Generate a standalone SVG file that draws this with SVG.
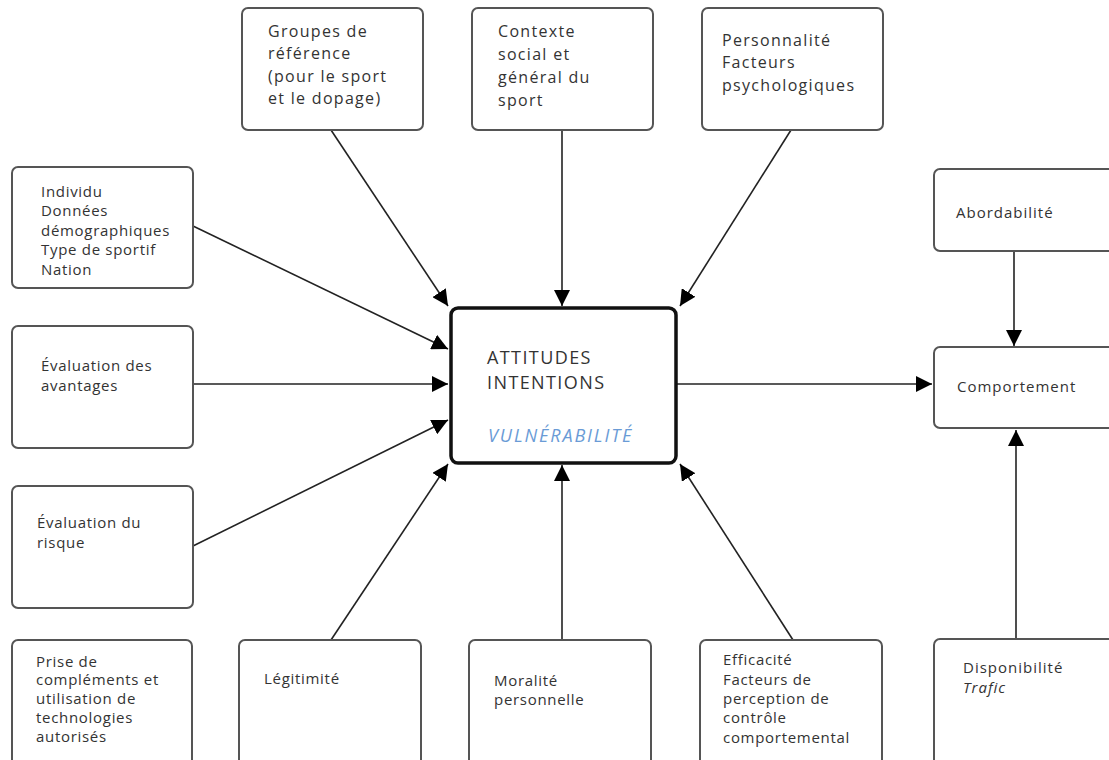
<svg xmlns="http://www.w3.org/2000/svg" width="1109" height="760" viewBox="0 0 1109 760">
<style>
.box{fill:#fff;stroke:#555;stroke-width:2}
.main{fill:#fff;stroke:#111;stroke-width:3.5}
text{font-family:"Open Sans","Noto Sans",sans-serif;font-size:15px;fill:#333;letter-spacing:0.7px}
.top{font-size:16px;letter-spacing:1.3px}
.rt{letter-spacing:1px}
.big{font-size:18px;fill:#333;letter-spacing:1.4px}
.vul{font-size:18px;fill:#6a9bd6;font-style:italic;letter-spacing:1.9px}
.c line{stroke:#222;stroke-width:1.6}
</style>
<defs>
<marker id="ah2" viewBox="0 0 10 10" refX="10" refY="5" markerWidth="16" markerHeight="16" markerUnits="userSpaceOnUse" orient="auto">
<path d="M0,0 L10,5 L0,10 Z" fill="#000"/>
</marker>
</defs>
<rect width="1109" height="760" fill="#fff"/>
<g class="c" id="connectors">
<line x1="331" y1="130" x2="448" y2="306" marker-end="url(#ah2)"/>
<line x1="562" y1="130" x2="562" y2="306" marker-end="url(#ah2)"/>
<line x1="791" y1="130" x2="680" y2="306" marker-end="url(#ah2)"/>
<line x1="193" y1="226" x2="448" y2="349" marker-end="url(#ah2)"/>
<line x1="193" y1="384" x2="448" y2="384" marker-end="url(#ah2)"/>
<line x1="193" y1="546" x2="448" y2="420" marker-end="url(#ah2)"/>
<line x1="331" y1="640" x2="448" y2="464" marker-end="url(#ah2)"/>
<line x1="562" y1="640" x2="562" y2="465" marker-end="url(#ah2)"/>
<line x1="793" y1="640" x2="680" y2="464" marker-end="url(#ah2)"/>
<line x1="677" y1="384" x2="932" y2="384" marker-end="url(#ah2)"/>
<line x1="1014" y1="251" x2="1014" y2="346" marker-end="url(#ah2)"/>
<line x1="1016" y1="639" x2="1016" y2="430" marker-end="url(#ah2)"/>
</g>
<g id="groupes">
<rect class="box" x="242" y="8" width="181" height="122" rx="6"/>
<text class="top" x="268" y="37">Groupes de</text>
<text class="top" x="268" y="59">référence</text>
<text class="top" x="268" y="82">(pour le sport</text>
<text class="top" x="268" y="104">et le dopage)</text>
</g>
<g id="contexte">
<rect class="box" x="472" y="8" width="181" height="122" rx="6"/>
<text class="top" x="498" y="37">Contexte</text>
<text class="top" x="498" y="60">social et</text>
<text class="top" x="498" y="83">général du</text>
<text class="top" x="498" y="106">sport</text>
</g>
<g id="personnalite">
<rect class="box" x="702" y="8" width="181" height="122" rx="6"/>
<text class="top" x="722" y="46">Personnalité</text>
<text class="top" x="722" y="68">Facteurs</text>
<text class="top" x="722" y="91">psychologiques</text>
</g>
<g id="individu">
<rect class="box" x="12" y="167" width="181" height="121" rx="6"/>
<text x="41" y="197">Individu</text>
<text x="41" y="216">Données</text>
<text x="41" y="236">démographiques</text>
<text x="41" y="255">Type de sportif</text>
<text x="41" y="275">Nation</text>
</g>
<g id="avantages">
<rect class="box" x="12" y="326" width="181" height="122" rx="6"/>
<text x="41" y="371">Évaluation des</text>
<text x="41" y="391">avantages</text>
</g>
<g id="risque">
<rect class="box" x="12" y="486" width="181" height="122" rx="6"/>
<text x="37" y="528">Évaluation du</text>
<text x="37" y="548">risque</text>
</g>
<g id="prise">
<rect class="box" x="12" y="640" width="180" height="130" rx="6"/>
<text x="36" y="667">Prise de</text>
<text x="36" y="685">compléments et</text>
<text x="36" y="704">utilisation de</text>
<text x="36" y="723">technologies</text>
<text x="36" y="742">autorisés</text>
</g>
<g id="legitimite">
<rect class="box" x="239" y="640" width="182" height="130" rx="6"/>
<text x="264" y="684">Légitimité</text>
</g>
<g id="moralite">
<rect class="box" x="469" y="640" width="182" height="130" rx="6"/>
<text x="494" y="686">Moralité</text>
<text x="494" y="705">personnelle</text>
</g>
<g id="efficacite">
<rect class="box" x="700" y="640" width="182" height="130" rx="6"/>
<text x="723" y="665">Efficacité</text>
<text x="723" y="685">Facteurs de</text>
<text x="723" y="704">perception de</text>
<text x="723" y="723">contrôle</text>
<text x="723" y="743">comportemental</text>
</g>
<g id="abordabilite">
<rect class="box" x="934" y="169" width="190" height="82" rx="6"/>
<text class="rt" x="956" y="218">Abordabilité</text>
</g>
<g id="comportement">
<rect class="box" x="934" y="347" width="190" height="81" rx="6"/>
<text class="rt" x="957" y="392">Comportement</text>
</g>
<g id="disponibilite">
<rect class="box" x="934" y="639" width="190" height="131" rx="6"/>
<text class="rt" x="963" y="673">Disponibilité</text>
<text class="rt" x="963" y="693" font-style="italic">Trafic</text>
</g>
<g id="attitudes">
<rect class="main" x="451" y="308" width="225" height="155" rx="7"/>
<text class="big" x="487" y="364">ATTITUDES</text>
<text class="big" x="487" y="389">INTENTIONS</text>
<text class="vul" x="488" y="442">VULNÉRABILITÉ</text>
</g>
</svg>
